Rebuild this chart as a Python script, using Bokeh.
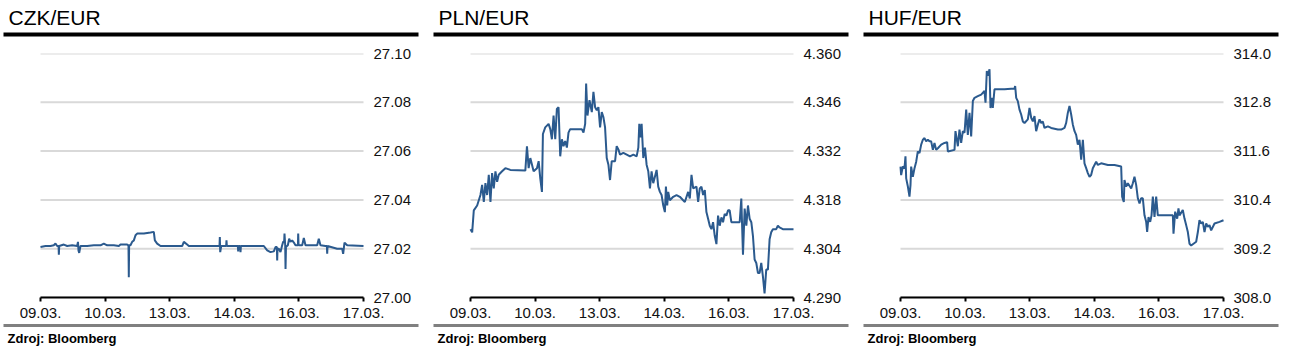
from bokeh.plotting import figure
from bokeh.layouts import row
from bokeh.models import (Range1d, FixedTicker, PrintfTickFormatter, CustomJSTickFormatter,
                          LinearAxis, Title)
from bokeh.embed import file_html
from bokeh.resources import INLINE

# ---------------- data ----------------
date_labels = ["09.03.", "10.03.", "13.03.", "14.03.", "16.03.", "17.03."]
date_ticks = [0, 1, 2, 3, 4, 5]

czk_x = [0.000, 0.077, 0.155, 0.206, 0.232, 0.258, 0.280, 0.284, 0.290, 0.361,
         0.413, 0.490, 0.568, 0.580, 0.588, 0.599, 0.619, 0.722, 0.826, 0.929,
         0.980, 1.032, 1.135, 1.213, 1.238, 1.342, 1.362, 1.367, 1.372, 1.393,
         1.419, 1.445, 1.471, 1.496, 1.600, 1.703, 1.754, 1.770, 1.806, 1.858,
         2.064, 2.193, 2.219, 2.270, 2.296, 2.683, 2.771, 2.776, 2.782, 2.797,
         2.864, 2.874, 2.879, 2.885, 3.055, 3.060, 3.065, 3.090, 3.096, 3.102,
         3.457, 3.509, 3.560, 3.612, 3.638, 3.659, 3.664, 3.669, 3.689, 3.715,
         3.741, 3.756, 3.772, 3.777, 3.788, 3.793, 3.800, 3.829, 3.849, 3.870,
         3.896, 3.922, 3.947, 3.985, 3.989, 3.995, 4.051, 4.076, 4.102, 4.283,
         4.308, 4.334, 4.412, 4.433, 4.438, 4.443, 4.592, 4.670, 4.685, 4.706,
         4.747, 5.000]
czk_y = [27.0207, 27.0211, 27.0211, 27.0214, 27.0221, 27.0211, 27.0211, 27.0175, 27.0211, 27.0217,
         27.0211, 27.0214, 27.0211, 27.0228, 27.0193, 27.0183, 27.0211, 27.0211, 27.0214, 27.0214,
         27.0221, 27.0214, 27.0214, 27.0211, 27.0217, 27.0217, 27.0214, 27.0083, 27.0214, 27.0214,
         27.0228, 27.0234, 27.0255, 27.0262, 27.0262, 27.0266, 27.0269, 27.0234, 27.0221, 27.0211,
         27.0211, 27.0211, 27.0228, 27.0217, 27.0211, 27.0211, 27.0211, 27.0248, 27.0186, 27.0211,
         27.0211, 27.0211, 27.0234, 27.0211, 27.0211, 27.0189, 27.0211, 27.0211, 27.0186, 27.0211,
         27.0211, 27.0193, 27.0186, 27.0189, 27.0207, 27.0207, 27.0152, 27.0200, 27.0200, 27.0186,
         27.0214, 27.0228, 27.0228, 27.0262, 27.0214, 27.0117, 27.0207, 27.0214, 27.0241, 27.0228,
         27.0234, 27.0225, 27.0214, 27.0214, 27.0262, 27.0214, 27.0214, 27.0244, 27.0214, 27.0214,
         27.0241, 27.0214, 27.0211, 27.0211, 27.0179, 27.0211, 27.0200, 27.0200, 27.0179, 27.0225,
         27.0214, 27.0211]

pln_x = [0.000, 0.026, 0.051, 0.103, 0.154, 0.180, 0.206, 0.231, 0.257, 0.283,
         0.309, 0.334, 0.360, 0.386, 0.412, 0.437, 0.489, 0.540, 0.617, 0.849,
         0.874, 0.900, 0.926, 0.977, 1.029, 1.055, 1.080, 1.106, 1.121, 1.157,
         1.209, 1.235, 1.260, 1.286, 1.312, 1.337, 1.363, 1.389, 1.415, 1.440,
         1.466, 1.492, 1.517, 1.543, 1.723, 1.749, 1.775, 1.790, 1.811, 1.842,
         1.878, 1.903, 1.929, 1.955, 1.980, 2.006, 2.032, 2.058, 2.083, 2.109,
         2.135, 2.160, 2.186, 2.238, 2.263, 2.289, 2.315, 2.366, 2.418, 2.469,
         2.521, 2.572, 2.598, 2.613, 2.634, 2.649, 2.675, 2.701, 2.726, 2.752,
         2.778, 2.803, 2.829, 2.881, 2.906, 2.932, 2.958, 2.984, 3.009, 3.025,
         3.045, 3.061, 3.086, 3.138, 3.189, 3.241, 3.292, 3.318, 3.369, 3.395,
         3.421, 3.447, 3.498, 3.524, 3.549, 3.575, 3.601, 3.627, 3.652, 3.678,
         3.704, 3.730, 3.755, 3.781, 3.807, 3.832, 3.858, 3.884, 3.909, 3.935,
         3.961, 3.987, 4.012, 4.038, 4.167, 4.192, 4.218, 4.244, 4.270, 4.295,
         4.321, 4.347, 4.372, 4.398, 4.424, 4.450, 4.475, 4.501, 4.527, 4.552,
         4.578, 4.604, 4.630, 4.655, 4.681, 4.733, 4.758, 4.784, 4.835, 4.913,
         5.000]
pln_y = [4.3096, 4.3087, 4.3150, 4.3164, 4.3194, 4.3223, 4.3174, 4.3228, 4.3194, 4.3252,
         4.3174, 4.3257, 4.3213, 4.3262, 4.3232, 4.3252, 4.3262, 4.3271, 4.3266, 4.3264,
         4.3334, 4.3271, 4.3300, 4.3262, 4.3271, 4.3291, 4.3242, 4.3203, 4.3369, 4.3388,
         4.3398, 4.3383, 4.3354, 4.3422, 4.3354, 4.3441, 4.3446, 4.3305, 4.3354, 4.3334,
         4.3349, 4.3330, 4.3373, 4.3383, 4.3383, 4.3373, 4.3398, 4.3514, 4.3422, 4.3466,
         4.3432, 4.3490, 4.3446, 4.3437, 4.3446, 4.3388, 4.3432, 4.3417, 4.3388, 4.3300,
         4.3281, 4.3237, 4.3291, 4.3291, 4.3334, 4.3325, 4.3310, 4.3315, 4.3310, 4.3305,
         4.3310, 4.3305, 4.3330, 4.3398, 4.3359, 4.3398, 4.3300, 4.3330, 4.3281, 4.3262,
         4.3213, 4.3262, 4.3228, 4.3266, 4.3218, 4.3203, 4.3194, 4.3164, 4.3145, 4.3218,
         4.3164, 4.3203, 4.3179, 4.3189, 4.3194, 4.3189, 4.3179, 4.3174, 4.3203, 4.3184,
         4.3252, 4.3213, 4.3218, 4.3174, 4.3213, 4.3218, 4.3194, 4.3208, 4.3145, 4.3126,
         4.3106, 4.3096, 4.3116, 4.3077, 4.3053, 4.3135, 4.3106, 4.3130, 4.3116, 4.3140,
         4.3135, 4.3150, 4.3150, 4.3116, 4.3116, 4.3184, 4.3023, 4.3155, 4.3106, 4.3164,
         4.3126, 4.3116, 4.3077, 4.3009, 4.2999, 4.2970, 4.2970, 4.2999, 4.2960, 4.2912,
         4.2980, 4.2980, 4.3067, 4.3087, 4.3096, 4.3096, 4.3106, 4.3101, 4.3096, 4.3096,
         4.3096]

huf_x = [0.000, 0.010, 0.036, 0.062, 0.077, 0.088, 0.114, 0.139, 0.155, 0.165,
         0.191, 0.217, 0.243, 0.268, 0.294, 0.320, 0.346, 0.372, 0.397, 0.423,
         0.449, 0.475, 0.501, 0.526, 0.552, 0.578, 0.630, 0.681, 0.722, 0.733,
         0.836, 0.851, 0.888, 0.913, 0.939, 0.965, 0.991, 1.017, 1.042, 1.068,
         1.094, 1.120, 1.146, 1.197, 1.249, 1.300, 1.316, 1.336, 1.352, 1.378,
         1.393, 1.414, 1.429, 1.455, 1.507, 1.610, 1.765, 1.775, 1.791, 1.816,
         1.842, 1.868, 1.894, 1.920, 1.971, 1.997, 2.023, 2.049, 2.074, 2.100,
         2.126, 2.152, 2.178, 2.203, 2.229, 2.281, 2.332, 2.436, 2.487, 2.539,
         2.564, 2.590, 2.616, 2.642, 2.668, 2.694, 2.719, 2.745, 2.771, 2.797,
         2.823, 2.848, 2.874, 2.900, 2.926, 2.951, 2.977, 3.003, 3.029, 3.055,
         3.106, 3.210, 3.313, 3.416, 3.431, 3.457, 3.467, 3.493, 3.519, 3.571,
         3.596, 3.622, 3.648, 3.674, 3.700, 3.725, 3.751, 3.777, 3.803, 3.818,
         3.839, 3.865, 3.886, 3.906, 3.932, 3.958, 3.983, 4.138, 4.216, 4.226,
         4.252, 4.283, 4.303, 4.319, 4.370, 4.396, 4.422, 4.448, 4.474, 4.499,
         4.577, 4.603, 4.628, 4.654, 4.680, 4.706, 4.732, 4.757, 4.783, 4.809,
         4.861, 4.938, 5.000]
huf_y = [311.22, 311.01, 311.22, 311.18, 311.47, 310.93, 310.73, 310.48, 310.77, 311.22,
         310.97, 311.18, 311.34, 311.59, 311.55, 311.76, 311.88, 311.92, 311.84, 311.88,
         311.84, 311.84, 311.63, 311.80, 311.63, 311.67, 311.76, 311.80, 311.82, 311.59,
         311.63, 312.09, 311.72, 312.13, 311.80, 312.09, 312.05, 312.62, 312.00, 312.54,
         311.96, 312.83, 312.91, 312.95, 312.99, 313.08, 312.79, 313.57, 313.45, 313.61,
         312.66, 312.91, 312.66, 313.12, 313.12, 313.12, 313.14, 313.20, 312.91, 312.83,
         312.62, 312.50, 312.33, 312.29, 312.38, 312.66, 312.42, 312.33, 312.46, 312.09,
         312.25, 312.38, 312.29, 312.33, 312.17, 312.21, 312.17, 312.13, 312.13, 312.17,
         312.29, 312.54, 312.71, 312.50, 312.25, 312.09, 312.00, 311.76, 311.88, 311.39,
         311.88, 311.30, 311.18, 311.06, 310.97, 311.01, 311.18, 311.26, 311.34, 311.26,
         311.30, 311.26, 311.26, 311.22, 310.48, 310.35, 310.89, 310.73, 310.81, 310.68,
         310.81, 310.97, 310.77, 310.44, 310.31, 310.44, 310.44, 310.02, 309.86, 309.61,
         309.98, 309.86, 310.02, 310.48, 309.98, 310.48, 310.02, 310.02, 310.02, 309.57,
         310.11, 309.94, 310.19, 310.02, 310.15, 309.94, 309.78, 309.61, 309.32, 309.28,
         309.37, 309.61, 309.90, 309.82, 309.86, 309.61, 309.82, 309.74, 309.78, 309.65,
         309.82, 309.86, 309.90]

czk_ticks = [27.00, 27.02, 27.04, 27.06, 27.08, 27.10]
pln_ticks = [4.290, 4.304, 4.318, 4.332, 4.346, 4.360]
huf_ticks = [308.0, 309.2, 310.4, 311.6, 312.8, 314.0]

titles = ["CZK/EUR", "PLN/EUR", "HUF/EUR"]
source_text = "Zdroj: Bloomberg"

# ---------------- style / layout ----------------
FONT = "Liberation Sans"
LINE_COLOR = "#2b5a8e"
GRID_COLOR = "#d9d9d9"
FRAME_LEFT = 3          # panel-relative x of the frame (rules start here)
FRAME_RIGHT = 418       # panel-relative x where the rules end
DATA_LEFT = 40          # where the first date sits
DATA_RIGHT = 363        # where the last date sits
SHIFT_UP = 5            # the row is pulled up by this much
TOP = 53 + SHIFT_UP
FRAME_H = 244
BOTTOM = 54


def empty_axis(**kw):
    return LinearAxis(ticker=FixedTicker(ticks=[]), major_tick_in=0, major_tick_out=0,
                      major_tick_line_color=None, minor_tick_line_color=None,
                      major_label_text_font_size="0px", **kw)


def spacer_axis(size):
    # an invisible axis whose only job is to take `size` pixels of room
    return LinearAxis(ticker=FixedTicker(ticks=[2.5]),
                      formatter=CustomJSTickFormatter(code="return '';"),
                      axis_line_color=None, major_tick_line_color=None,
                      minor_tick_line_color=None, major_tick_in=0, major_tick_out=size,
                      major_label_standoff=0, major_label_text_font_size="0px")


def panel(title, xs, ys, yticks, fmt, w):
    px_per_day = (DATA_RIGHT - DATA_LEFT) / 5.0
    x0 = -(DATA_LEFT - FRAME_LEFT) / px_per_day
    x1 = 5 + (FRAME_RIGHT - DATA_RIGHT) / px_per_day
    p = figure(width=w, height=TOP + FRAME_H + BOTTOM,
               x_range=Range1d(x0, x1), y_range=Range1d(yticks[0], yticks[-1]),
               y_axis_location="right", x_axis_location="below",
               min_border_left=FRAME_LEFT, min_border_right=w - FRAME_RIGHT,
               min_border_top=TOP, min_border_bottom=BOTTOM,
               output_backend="svg", toolbar_location=None, title=None)
    p.outline_line_color = None
    p.grid.visible = False
    p.background_fill_color = "white"
    p.border_fill_color = "white"

    # horizontal gridlines over the date span
    p.segment(x0=[date_ticks[0]] * len(yticks), x1=[date_ticks[-1]] * len(yticks),
              y0=yticks, y1=yticks, line_color=GRID_COLOR, line_width=2)
    p.line(xs, ys, line_color=LINE_COLOR, line_width=2)

    xa = p.xaxis[0]
    xa.bounds = (date_ticks[0], date_ticks[-1])
    xa.ticker = FixedTicker(ticks=date_ticks)
    xa.formatter = CustomJSTickFormatter(args=dict(labels=date_labels),
                                         code="return labels[Math.round(tick)];")
    xa.axis_line_color = "#000000"
    xa.axis_line_width = 2
    xa.major_tick_line_color = "#000000"
    xa.major_tick_line_width = 2
    xa.major_tick_in = 0
    xa.major_tick_out = 4
    xa.minor_tick_line_color = None
    xa.major_label_standoff = 6
    xa.major_label_text_font = FONT
    xa.major_label_text_font_size = "15px"
    xa.major_label_text_color = "#111111"

    ya = p.yaxis[0]
    ya.ticker = FixedTicker(ticks=yticks)
    ya.formatter = PrintfTickFormatter(format=fmt)
    ya.axis_line_color = None
    ya.major_tick_line_color = None
    ya.minor_tick_line_color = None
    ya.major_tick_in = 0
    ya.major_tick_out = 0
    ya.major_label_standoff = -(FRAME_RIGHT - DATA_RIGHT - 10)
    ya.major_label_text_font = FONT
    ya.major_label_text_font_size = "15px"
    ya.major_label_text_color = "#111111"

    # header: spacer, black rule, title
    p.add_layout(spacer_axis(19), "above")
    p.add_layout(empty_axis(axis_line_color="#000000", axis_line_width=4), "above")
    p.add_layout(Title(text=title, align="left", offset=5, standoff=12,
                       text_font=FONT, text_font_size="21px", text_font_style="normal",
                       text_color="#000000"), "above")

    # footer: spacer, grey rule, source
    p.add_layout(spacer_axis(5), "below")
    p.add_layout(empty_axis(axis_line_color="#808080", axis_line_width=3), "below")
    p.add_layout(Title(text=source_text, align="left", offset=4, standoff=6,
                       text_font=FONT, text_font_size="13px", text_font_style="bold",
                       text_color="#000000"), "below")
    return p


widths = [430, 430, 420]
series = [(czk_x, czk_y, czk_ticks, "%.2f"),
          (pln_x, pln_y, pln_ticks, "%.3f"),
          (huf_x, huf_y, huf_ticks, "%.1f")]

figs = []
for title, w, (xs, ys, ticks, fmt) in zip(titles, widths, series):
    assert len(xs) == len(ys)
    figs.append(panel(title, xs, ys, ticks, fmt, w))

layout = row(*figs, spacing=0, margin=(-SHIFT_UP, 0, 0, 0))

open("out.html", "w").write(file_html(layout, INLINE))
